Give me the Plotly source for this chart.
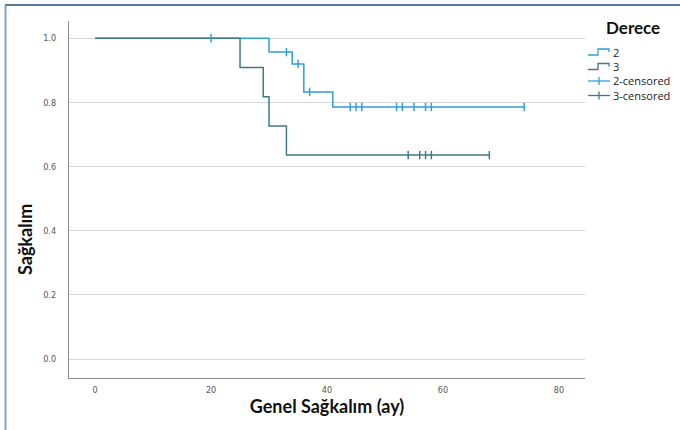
import plotly.graph_objects as go

# ---- data ----
grp2_times = [0, 30, 34, 36, 41, 74]
grp2_surv = [1.0, 0.957, 0.920, 0.833, 0.786, 0.786]
grp3_times = [0, 25, 29, 30, 33, 68]
grp3_surv = [1.0, 0.909, 0.818, 0.727, 0.636, 0.636]
grp2_censor = [20, 33, 35, 37, 44, 45, 46, 52, 53, 55, 57, 58, 74]
grp3_censor = [54, 56, 57, 58, 68]
x_ticks = [0, 20, 40, 60, 80]
y_ticks = [0.0, 0.2, 0.4, 0.6, 0.8, 1.0]
legend_labels = ["2", "3", "2-censored", "3-censored"]

C2 = "#2e9fd9"
C3 = "#3f7b83"


def surv_at(times, surv, t):
    val = surv[0]
    for ti, si in zip(times, surv):
        if ti <= t:
            val = si
    return val


def censor_xy(times, surv, cens):
    xs, ys = [], []
    for c in cens:
        xs += [c, None]
        ys += [surv_at(times, surv, c), None]
    return xs, ys


W, H = 680, 430
ML, MR, MT, MB = 69, 95, 21, 52
PW, PH = W - ML - MR, H - MT - MB


def px(x):
    return (x - ML) / PW


def py(y):
    return (H - MB - y) / PH


fig = go.Figure()
fig.add_trace(go.Scatter(x=grp2_times, y=grp2_surv, mode="lines", line=dict(color=C2, width=1.5, shape="hv"),
                         showlegend=False, hoverinfo="skip"))
fig.add_trace(go.Scatter(x=grp3_times, y=grp3_surv, mode="lines", line=dict(color=C3, width=1.5, shape="hv"),
                         showlegend=False, hoverinfo="skip"))
x2, y2 = censor_xy(grp2_times, grp2_surv, grp2_censor)
x3, y3 = censor_xy(grp3_times, grp3_surv, grp3_censor)
fig.add_trace(go.Scatter(x=x2, y=y2, mode="markers", showlegend=False, hoverinfo="skip",
                         marker=dict(symbol="line-ns-open", size=6, color=C2, line=dict(color=C2, width=1.5))))
fig.add_trace(go.Scatter(x=x3, y=y3, mode="markers", showlegend=False, hoverinfo="skip",
                         marker=dict(symbol="line-ns-open", size=6, color=C3, line=dict(color=C3, width=1.5))))

shapes = []
annotations = []
# frame decoration
shapes.append(dict(type="line", xref="paper", yref="paper", x0=px(5), x1=px(680), y0=py(5), y1=py(5),
                   line=dict(color="#1f4e79", width=1.5)))
shapes.append(dict(type="line", xref="paper", yref="paper", x0=px(5.5), x1=px(5.5), y0=py(5), y1=py(430),
                   line=dict(color="#7aa3c8", width=2)))

# custom legend
annotations.append(dict(text="<b>Derece</b>", xref="paper", yref="paper", x=px(604), y=py(27),
                        xanchor="left", yanchor="middle", showarrow=False,
                        font=dict(family="Lato", size=17, color="#111")))
rows = [52, 66.5, 81, 95.5]
cols = [C2, C3, C2, C3]
for i, (lab, yy, col) in enumerate(zip(legend_labels, rows, cols)):
    if i < 2:
        path = (f"M {px(588)} {py(yy + 3)} L {px(598)} {py(yy + 3)} L {px(598)} {py(yy - 3)} "
                f"L {px(609)} {py(yy - 3)} L {px(609)} {py(yy)}")
        shapes.append(dict(type="path", xref="paper", yref="paper", path=path,
                           line=dict(color=col, width=1.3)))
    else:
        shapes.append(dict(type="line", xref="paper", yref="paper", x0=px(588), x1=px(610), y0=py(yy), y1=py(yy),
                           line=dict(color=col, width=1.3)))
        shapes.append(dict(type="line", xref="paper", yref="paper", x0=px(599), x1=px(599), y0=py(yy - 4),
                           y1=py(yy + 4), line=dict(color=col, width=1.3)))
    annotations.append(dict(text=lab, xref="paper", yref="paper", x=px(611), y=py(yy),
                            xanchor="left", yanchor="middle", showarrow=False,
                            font=dict(family="Open Sans", size=11, color="#222")))

# y title
annotations.append(dict(text="<b>Sağkalım</b>", xref="paper", yref="paper", x=px(25), y=py(240),
                        xanchor="center", yanchor="middle", textangle=-90, showarrow=False,
                        font=dict(family="Lato", size=18, color="#111")))

fig.update_layout(
    width=W, height=H,
    margin=dict(l=ML, r=MR, t=MT, b=MB),
    paper_bgcolor="white", plot_bgcolor="white",
    shapes=shapes, annotations=annotations,
    showlegend=False,
    xaxis=dict(range=[-4.5, 84.5], tickvals=x_ticks, ticktext=[str(v) for v in x_ticks],
               showgrid=False, zeroline=False, showline=True, linecolor="#8c8c8c", linewidth=1.2,
               ticks="", ticklabelstandoff=3,
               tickfont=dict(family="DejaVu Sans Condensed, DejaVu Sans", size=9, color="#555"),
               title=dict(text="<b>Genel Sağkalım (ay)</b>", font=dict(family="Lato", size=18, color="#111"),
                          standoff=6)),
    yaxis=dict(range=[-0.059, 1.054], tickvals=y_ticks, ticktext=[f"{v:.1f}" for v in y_ticks],
               showgrid=True, gridcolor="#d6d6d6", gridwidth=1, zeroline=False,
               showline=True, linecolor="#8c8c8c", linewidth=1.2, ticks="", ticklabelstandoff=10,
               tickfont=dict(family="DejaVu Sans Condensed, DejaVu Sans", size=9, color="#555")),
)

fig.write_html("out.html", config={"displayModeBar": False},
               post_script="document.body.style.margin='0px';document.body.style.overflow='hidden';")
